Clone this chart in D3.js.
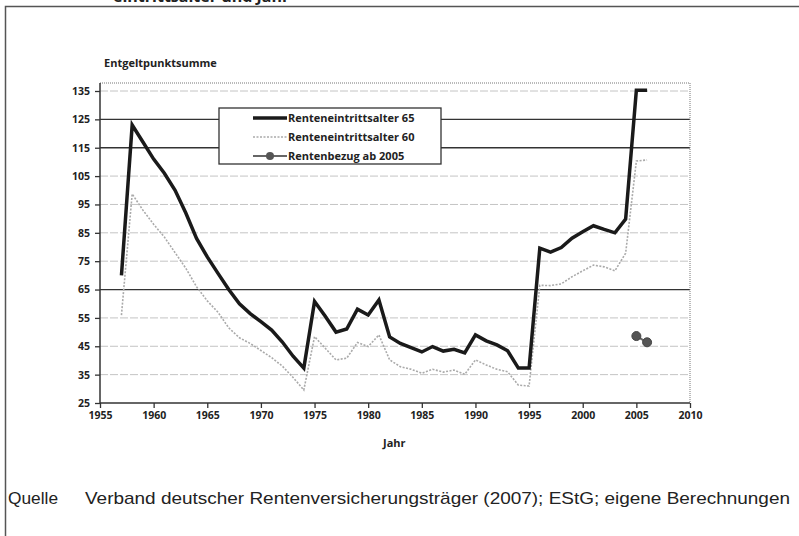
<!DOCTYPE html>
<html>
<head>
<meta charset="utf-8">
<script src="https://cdn.jsdelivr.net/npm/d3@7"></script>
<style>
  body { margin:0; background:#fff; }
  svg { display:block; }
  .tick text { font-family:"Open Sans", sans-serif; font-weight:700; font-size:10.5px; fill:#222; }
</style>
</head>
<body>
<div id="plot"></div>
<script>
// data
var years65 = d3.range(1957, 2007);
var rente65 = [70, 123, 117, 111, 106, 100, 92, 83, 76.5, 70.7, 65, 60, 56.5, 53.7, 50.7,
    46.5, 41.5, 37.3, 60.8, 55.6, 50, 51.1, 58.1, 56, 61.3, 48.3, 46, 44.5, 43, 44.9,
    43.3, 43.9, 42.7, 49, 46.9, 45.5, 43.4, 37.3, 37.3, 79.6, 78.2, 79.8, 83.1, 85.4,
    87.5, 86.2, 85, 89.8, 135.3, 135.3];
var rente60 = [56, 98.7, 93, 88, 83.5, 78, 72.5, 66, 61, 57, 51.5, 48, 46, 43.5, 41,
    38, 34, 29.6, 48.4, 44.3, 40.2, 40.8, 46.3, 44.9, 49, 40.2, 37.8, 36.9, 35.5, 36.9,
    35.9, 36.6, 35.1, 40.2, 38.4, 36.9, 36, 31.3, 31, 66.5, 66.4, 67, 69.5, 71.6,
    73.6, 73, 71.6, 77.8, 110.3, 110.7];
var yearsBezug = [2005, 2006];
var bezug = [48.6, 46.4];

var xTicks = d3.range(1955, 2011, 5);
var yTicks = d3.range(25, 136, 10);
var darkGrid = [125, 115, 65];   // these lines print darker in the scan

var legendNames = ["Renteneintrittsalter 65", "Renteneintrittsalter 60", "Rentenbezug ab 2005"];

var W = 799, H = 536;
var svg = d3.select('#plot').append('svg').attr('width', W).attr('height', H);

// outer frame (left + top) and the cut-off caption above it
svg.append('path').attr('d', 'M5.5,536 V6.5 H799')
    .style('fill', 'none').style('stroke', '#555').style('stroke-width', 1.5);
svg.append('text').attr('x', 113).attr('y', 2)
    .style('font-family', '"Open Sans", sans-serif').style('font-weight', 700)
    .style('font-size', '16px').style('fill', '#222')
    .text('eintrittsalter und Jahr');

var x = d3.scaleLinear().domain([1955, 2010]).range([100, 690]);
var y = d3.scaleLinear().domain([25, 135]).range([403, 91]);
var plotTop = y(135) - 8;

// grid
svg.selectAll('.grid').data(yTicks.slice(1)).enter()
    .append('line').attr('class', 'grid')
    .attr('x1', x(1955)).attr('x2', x(2010))
    .attr('y1', function(d){ return y(d); }).attr('y2', function(d){ return y(d); })
    .style('stroke', function(d){ return darkGrid.indexOf(d) > -1 ? '#333' : '#c4c4c4'; })
    .style('stroke-width', function(d){ return darkGrid.indexOf(d) > -1 ? 1.3 : 1; })
    .style('stroke-dasharray', function(d){ return darkGrid.indexOf(d) > -1 ? null : '8,2'; });

// dotted plot-area border (top + right)
svg.append('path')
    .attr('d', 'M' + x(1955) + ',' + plotTop + 'H' + x(2010) + 'V' + y(25))
    .style('fill', 'none').style('stroke', '#777').style('stroke-width', 1)
    .style('stroke-dasharray', '1,1');

// axes
var xAxis = d3.axisBottom(x).tickValues(xTicks).tickFormat(d3.format('d')).tickSize(5).tickPadding(4);
var gx = svg.append('g').attr('transform', 'translate(0,' + y(25) + ')').call(xAxis);
gx.select('.domain').remove();
gx.append('line').attr('x1', x(1955)).attr('x2', x(2010))
    .style('stroke', '#333').style('stroke-width', 1.5);
gx.selectAll('.tick line').style('stroke', '#333').style('stroke-width', 1.3);

var yAxis = d3.axisLeft(y).tickValues(yTicks).tickSize(5).tickPadding(5);
var gy = svg.append('g').attr('transform', 'translate(' + x(1955) + ',0)').call(yAxis);
gy.select('.domain').remove();
gy.append('line').attr('y1', plotTop).attr('y2', y(25))
    .style('stroke', '#333').style('stroke-width', 1.5);
gy.selectAll('.tick line').style('stroke', '#333').style('stroke-width', 1.3);

svg.append('text').attr('x', 104).attr('y', 67)
    .style('font-family', '"Open Sans", sans-serif').style('font-weight', 700)
    .style('font-size', '11px').style('fill', '#222')
    .text('Entgeltpunktsumme');
svg.append('text').attr('x', 383).attr('y', 447)
    .style('font-family', '"Open Sans", sans-serif').style('font-weight', 700)
    .style('font-size', '11px').style('fill', '#222')
    .text('Jahr');

// series
var line = d3.line()
    .x(function(d){ return x(d[0]); })
    .y(function(d){ return y(d[1]); });

svg.append('path').datum(d3.zip(years65, rente60))
    .attr('d', line)
    .style('fill', 'none').style('stroke', '#aaa').style('stroke-width', 1.6)
    .style('stroke-dasharray', '2,1.5');

svg.append('path').datum(d3.zip(years65, rente65))
    .attr('d', line)
    .style('fill', 'none').style('stroke', '#1a1a1a').style('stroke-width', 3.5)
    .style('stroke-linejoin', 'miter');

var bz = d3.zip(yearsBezug, bezug);
svg.append('path').datum(bz)
    .attr('d', line)
    .style('fill', 'none').style('stroke', '#666').style('stroke-width', 2);
svg.selectAll('.dot').data(bz).enter()
    .append('circle').attr('class', 'dot')
    .attr('cx', function(d){ return x(d[0]); })
    .attr('cy', function(d){ return y(d[1]); })
    .attr('r', 4.5)
    .style('fill', '#555').style('stroke', '#444');

// legend
var lg = svg.append('g').attr('transform', 'translate(219,108)');
lg.append('rect').attr('width', 222).attr('height', 56)
    .style('fill', '#fff').style('stroke', '#333').style('stroke-width', 1.3);
var rows = lg.selectAll('.row').data(legendNames).enter()
    .append('g').attr('class', 'row')
    .attr('transform', function(d, i){ return 'translate(0,' + (10 + i * 19) + ')'; });
rows.append('line').attr('x1', 34).attr('x2', 68)
    .style('stroke', function(d, i){ return ['#1a1a1a', '#aaa', '#666'][i]; })
    .style('stroke-width', function(d, i){ return [3.5, 1.6, 2][i]; })
    .style('stroke-dasharray', function(d, i){ return i == 1 ? '2,1.5' : null; });
rows.filter(function(d, i){ return i == 2; })
    .append('circle').attr('cx', 51).attr('r', 4).style('fill', '#555');
rows.append('text').attr('x', 69).attr('dy', '0.35em')
    .style('font-family', '"Open Sans", sans-serif').style('font-weight', 700)
    .style('font-size', '11px').style('fill', '#222')
    .text(function(d){ return d; });

// source line
svg.append('text').attr('x', 8).attr('y', 504)
    .attr('textLength', 50).attr('lengthAdjust', 'spacingAndGlyphs')
    .style('font-family', '"Liberation Sans", Arial, sans-serif')
    .style('font-size', '17px').style('fill', '#222')
    .text('Quelle');
svg.append('text').attr('x', 85).attr('y', 504)
    .attr('textLength', 705).attr('lengthAdjust', 'spacingAndGlyphs')
    .style('font-family', '"Liberation Sans", Arial, sans-serif')
    .style('font-size', '17px').style('fill', '#222')
    .text('Verband deutscher Rentenversicherungsträger (2007); EStG; eigene Berechnungen');
</script>
</body>
</html>
